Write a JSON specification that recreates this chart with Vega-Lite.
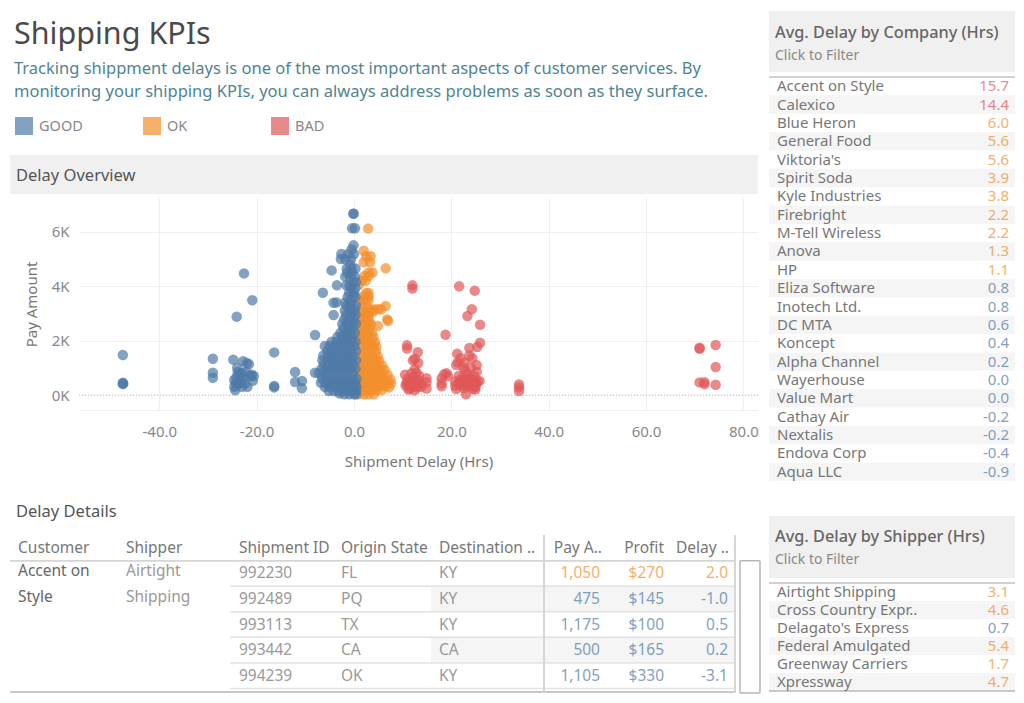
{
  "$schema": "https://vega.github.io/schema/vega-lite/v6.json",
  "padding": {"left": 9, "top": 11, "right": 0, "bottom": 0},
  "background": "white",
  "config": {
    "font": "Noto Sans",
    "locale": {"number": {"decimal": ".", "thousands": ",", "grouping": [3], "currency": ["$", ""], "minus": "-"}},
    "view": {"stroke": null},
    "text": {"fontSize": 15.5, "color": "#777777"},
    "axis": {"labelFont": "Noto Sans", "titleFont": "Noto Sans", "labelFontSize": 15, "titleFontSize": 15, "labelColor": "#888888", "titleColor": "#777777", "titleFontWeight": "normal", "gridColor": "#f0f0f0", "domain": false, "ticks": false}
  },
  "datasets": {
    "details": [
      {"id": "992230", "Origin State": "FL", "Destination": "KY", "Pay Amount": 1050, "Profit": 270, "Delay": 2.0, "status": "OK"},
      {"id": "992489", "Origin State": "PQ", "Destination": "KY", "Pay Amount": 475, "Profit": 145, "Delay": -1.0, "status": "GOOD"},
      {"id": "993113", "Origin State": "TX", "Destination": "KY", "Pay Amount": 1175, "Profit": 100, "Delay": 0.5, "status": "GOOD"},
      {"id": "993442", "Origin State": "CA", "Destination": "CA", "Pay Amount": 500, "Profit": 165, "Delay": 0.2, "status": "GOOD"},
      {"id": "994239", "Origin State": "OK", "Destination": "KY", "Pay Amount": 1105, "Profit": 330, "Delay": -3.1, "status": "GOOD"}
    ],
    "customer": [
      {"id": "992230", "Customer": "Accent on", "Shipper": "Airtight"},
      {"id": "992489", "Customer": "Style", "Shipper": "Shipping"}
    ],
    "company": [
      {"name": "Accent on Style", "delay": 15.7, "status": "BAD"},
      {"name": "Calexico", "delay": 14.4, "status": "BAD"},
      {"name": "Blue Heron", "delay": 6.0, "status": "OK"},
      {"name": "General Food", "delay": 5.6, "status": "OK"},
      {"name": "Viktoria's", "delay": 5.6, "status": "OK"},
      {"name": "Spirit Soda", "delay": 3.9, "status": "OK"},
      {"name": "Kyle Industries", "delay": 3.8, "status": "OK"},
      {"name": "Firebright", "delay": 2.2, "status": "OK"},
      {"name": "M-Tell Wireless", "delay": 2.2, "status": "OK"},
      {"name": "Anova", "delay": 1.3, "status": "OK"},
      {"name": "HP", "delay": 1.1, "status": "OK"},
      {"name": "Eliza Software", "delay": 0.8, "status": "GOOD"},
      {"name": "Inotech Ltd.", "delay": 0.8, "status": "GOOD"},
      {"name": "DC MTA", "delay": 0.6, "status": "GOOD"},
      {"name": "Koncept", "delay": 0.4, "status": "GOOD"},
      {"name": "Alpha Channel", "delay": 0.2, "status": "GOOD"},
      {"name": "Wayerhouse", "delay": 0.0, "status": "GOOD"},
      {"name": "Value Mart", "delay": 0.0, "status": "GOOD"},
      {"name": "Cathay Air", "delay": -0.2, "status": "GOOD"},
      {"name": "Nextalis", "delay": -0.2, "status": "GOOD"},
      {"name": "Endova Corp", "delay": -0.4, "status": "GOOD"},
      {"name": "Aqua LLC", "delay": -0.9, "status": "GOOD"}
    ],
    "shipper": [
      {"name": "Airtight Shipping", "delay": 3.1, "status": "OK"},
      {"name": "Cross Country Expr..", "delay": 4.6, "status": "OK"},
      {"name": "Delagato's Express", "delay": 0.7, "status": "GOOD"},
      {"name": "Federal Amulgated", "delay": 5.4, "status": "OK"},
      {"name": "Greenway Carriers", "delay": 1.7, "status": "OK"},
      {"name": "Xpressway", "delay": 4.7, "status": "OK"}
    ],
    "shipments": [
      {"d":1.0,"p":30,"s":"OK"},{"d":2.1,"p":30,"s":"OK"},{"d":3.0,"p":30,"s":"OK"},{"d":4.1,"p":30,"s":"OK"},
      {"d":1.2,"p":180,"s":"OK"},{"d":2.3,"p":180,"s":"OK"},{"d":3.4,"p":180,"s":"OK"},{"d":4.6,"p":180,"s":"OK"},{"d":5.7,"p":180,"s":"OK"},
      {"d":0.9,"p":320,"s":"OK"},{"d":2.0,"p":320,"s":"OK"},{"d":3.1,"p":320,"s":"OK"},{"d":4.2,"p":320,"s":"OK"},{"d":5.3,"p":320,"s":"OK"},{"d":6.5,"p":320,"s":"OK"},{"d":7.2,"p":280,"s":"OK"},
      {"d":1.4,"p":450,"s":"OK"},{"d":2.5,"p":450,"s":"OK"},{"d":3.6,"p":450,"s":"OK"},{"d":4.7,"p":450,"s":"OK"},{"d":5.8,"p":450,"s":"OK"},{"d":6.9,"p":450,"s":"OK"},{"d":7.6,"p":420,"s":"OK"},
      {"d":0.8,"p":600,"s":"OK"},{"d":1.9,"p":600,"s":"OK"},{"d":3.0,"p":600,"s":"OK"},{"d":4.1,"p":600,"s":"OK"},{"d":5.2,"p":600,"s":"OK"},{"d":6.3,"p":600,"s":"OK"},{"d":7.5,"p":570,"s":"OK"},
      {"d":1.3,"p":760,"s":"OK"},{"d":2.4,"p":760,"s":"OK"},{"d":3.5,"p":760,"s":"OK"},{"d":4.6,"p":760,"s":"OK"},{"d":5.7,"p":760,"s":"OK"},{"d":6.9,"p":750,"s":"OK"},
      {"d":1.0,"p":920,"s":"OK"},{"d":2.1,"p":920,"s":"OK"},{"d":3.2,"p":920,"s":"OK"},{"d":4.3,"p":920,"s":"OK"},{"d":5.4,"p":920,"s":"OK"},{"d":6.3,"p":920,"s":"OK"},
      {"d":1.5,"p":1080,"s":"OK"},{"d":2.6,"p":1080,"s":"OK"},{"d":3.7,"p":1080,"s":"OK"},{"d":4.8,"p":1080,"s":"OK"},{"d":5.8,"p":1080,"s":"OK"},
      {"d":1.1,"p":1250,"s":"OK"},{"d":2.2,"p":1250,"s":"OK"},{"d":3.3,"p":1250,"s":"OK"},{"d":4.4,"p":1250,"s":"OK"},{"d":5.2,"p":1250,"s":"OK"},
      {"d":1.6,"p":1420,"s":"OK"},{"d":2.7,"p":1420,"s":"OK"},{"d":3.8,"p":1420,"s":"OK"},{"d":4.9,"p":1420,"s":"OK"},
      {"d":1.2,"p":1600,"s":"OK"},{"d":2.3,"p":1600,"s":"OK"},{"d":3.4,"p":1600,"s":"OK"},{"d":4.5,"p":1600,"s":"OK"},
      {"d":1.7,"p":1780,"s":"OK"},{"d":2.8,"p":1780,"s":"OK"},{"d":3.9,"p":1780,"s":"OK"},{"d":4.6,"p":1780,"s":"OK"},
      {"d":1.3,"p":1950,"s":"OK"},{"d":2.4,"p":1950,"s":"OK"},{"d":3.5,"p":1950,"s":"OK"},{"d":4.3,"p":1950,"s":"OK"},
      {"d":1.0,"p":2130,"s":"OK"},{"d":2.0,"p":2130,"s":"OK"},{"d":3.0,"p":2130,"s":"OK"},{"d":4.0,"p":2130,"s":"OK"},
      {"d":1.6,"p":2280,"s":"OK"},{"d":2.7,"p":2280,"s":"OK"},{"d":3.7,"p":2280,"s":"OK"},
      {"d":1.1,"p":2420,"s":"OK"},{"d":2.2,"p":2420,"s":"OK"},{"d":3.2,"p":2420,"s":"OK"},{"d":4.9,"p":2540,"s":"OK"},
      {"d":1.7,"p":2600,"s":"OK"},{"d":2.8,"p":2600,"s":"OK"},{"d":3.5,"p":2600,"s":"OK"},
      {"d":1.3,"p":2720,"s":"OK"},{"d":2.3,"p":2720,"s":"OK"},{"d":3.1,"p":2720,"s":"OK"},{"d":7.0,"p":2720,"s":"OK"},{"d":6.8,"p":2780,"s":"OK"},
      {"d":1.8,"p":2900,"s":"OK"},{"d":2.6,"p":2900,"s":"OK"},{"d":3.0,"p":2900,"s":"OK"},
      {"d":1.2,"p":3060,"s":"OK"},{"d":2.1,"p":3060,"s":"OK"},{"d":3.0,"p":3060,"s":"OK"},{"d":3.9,"p":3060,"s":"OK"},
      {"d":3.3,"p":3150,"s":"OK"},{"d":4.2,"p":3150,"s":"OK"},{"d":5.0,"p":3150,"s":"OK"},{"d":5.6,"p":3150,"s":"OK"},
      {"d":1.7,"p":3270,"s":"OK"},{"d":2.6,"p":3270,"s":"OK"},{"d":6.5,"p":3270,"s":"OK"},
      {"d":1.1,"p":3480,"s":"OK"},{"d":2.1,"p":3480,"s":"OK"},{"d":3.0,"p":3480,"s":"OK"},
      {"d":1.9,"p":3620,"s":"OK"},{"d":3.0,"p":3620,"s":"OK"},{"d":2.5,"p":3750,"s":"OK"},{"d":3.0,"p":3750,"s":"OK"},
      {"d":1.0,"p":4050,"s":"OK"},{"d":1.6,"p":4200,"s":"OK"},{"d":2.4,"p":4200,"s":"OK"},
      {"d":2.2,"p":4380,"s":"OK"},{"d":3.0,"p":4380,"s":"OK"},{"d":3.0,"p":4500,"s":"OK"},{"d":3.8,"p":4500,"s":"OK"},{"d":6.5,"p":4655,"s":"OK"},
      {"d":2.0,"p":4880,"s":"OK"},{"d":3.3,"p":4880,"s":"OK"},{"d":2.5,"p":5100,"s":"OK"},{"d":3.4,"p":5100,"s":"OK"},{"d":2.0,"p":5300,"s":"OK"},{"d":2.9,"p":6115,"s":"OK"},

      {"d":-47.5,"p":1470,"s":"GOOD"},{"d":-47.5,"p":450,"s":"GOOD"},{"d":-47.5,"p":400,"s":"GOOD"},{"d":-47.4,"p":420,"s":"GOOD"},
      {"d":-29,"p":1335,"s":"GOOD"},{"d":-29,"p":820,"s":"GOOD"},{"d":-29,"p":637,"s":"GOOD"},
      {"d":-24.8,"p":1300,"s":"GOOD"},{"d":-24.6,"p":550,"s":"GOOD"},{"d":-24.6,"p":300,"s":"GOOD"},{"d":-24.4,"p":180,"s":"GOOD"},{"d":-24.3,"p":430,"s":"GOOD"},{"d":-24.2,"p":650,"s":"GOOD"},{"d":-24,"p":1000,"s":"GOOD"},{"d":-23.9,"p":850,"s":"GOOD"},{"d":-23.8,"p":400,"s":"GOOD"},{"d":-23.5,"p":780,"s":"GOOD"},{"d":-23.4,"p":450,"s":"GOOD"},{"d":-23.2,"p":550,"s":"GOOD"},{"d":-23,"p":300,"s":"GOOD"},{"d":-22.9,"p":820,"s":"GOOD"},{"d":-22.8,"p":1240,"s":"GOOD"},{"d":-22.6,"p":650,"s":"GOOD"},{"d":-22.4,"p":420,"s":"GOOD"},{"d":-22.2,"p":860,"s":"GOOD"},{"d":-22,"p":1180,"s":"GOOD"},{"d":-21.9,"p":300,"s":"GOOD"},{"d":-21.6,"p":1130,"s":"GOOD"},{"d":-21.2,"p":700,"s":"GOOD"},{"d":-21,"p":750,"s":"GOOD"},{"d":-20.8,"p":520,"s":"GOOD"},{"d":-20.6,"p":700,"s":"GOOD"},
      {"d":-22.6,"p":4470,"s":"GOOD"},{"d":-20.9,"p":3480,"s":"GOOD"},{"d":-24.1,"p":2880,"s":"GOOD"},{"d":-16.4,"p":1567,"s":"GOOD"},{"d":-16.4,"p":330,"s":"GOOD"},{"d":-16.4,"p":280,"s":"GOOD"},
      {"d":-12.1,"p":845,"s":"GOOD"},{"d":-12.1,"p":475,"s":"GOOD"},{"d":-10.7,"p":515,"s":"GOOD"},{"d":-10.7,"p":245,"s":"GOOD"},{"d":-8,"p":820,"s":"GOOD"},{"d":-8,"p":2205,"s":"GOOD"},
      {"d":-2,"p":30,"s":"GOOD"},{"d":-1,"p":30,"s":"GOOD"},{"d":0,"p":30,"s":"GOOD"},{"d":0.4,"p":30,"s":"GOOD"},{"d":-3,"p":60,"s":"GOOD"},
      {"d":-5.2,"p":150,"s":"GOOD"},{"d":-4.2,"p":150,"s":"GOOD"},{"d":-3.2,"p":150,"s":"GOOD"},{"d":-2.2,"p":150,"s":"GOOD"},{"d":-1.2,"p":150,"s":"GOOD"},{"d":-0.2,"p":150,"s":"GOOD"},{"d":0.4,"p":150,"s":"GOOD"},
      {"d":-6,"p":300,"s":"GOOD"},{"d":-5,"p":300,"s":"GOOD"},{"d":-4,"p":300,"s":"GOOD"},{"d":-3,"p":300,"s":"GOOD"},{"d":-2,"p":300,"s":"GOOD"},{"d":-1,"p":300,"s":"GOOD"},{"d":0,"p":300,"s":"GOOD"},{"d":0.5,"p":300,"s":"GOOD"},
      {"d":-6.8,"p":450,"s":"GOOD"},{"d":-5.8,"p":450,"s":"GOOD"},{"d":-4.8,"p":450,"s":"GOOD"},{"d":-3.8,"p":450,"s":"GOOD"},{"d":-2.8,"p":450,"s":"GOOD"},{"d":-1.8,"p":450,"s":"GOOD"},{"d":-0.8,"p":450,"s":"GOOD"},{"d":0.2,"p":450,"s":"GOOD"},
      {"d":-6.5,"p":600,"s":"GOOD"},{"d":-5.5,"p":600,"s":"GOOD"},{"d":-4.5,"p":600,"s":"GOOD"},{"d":-3.5,"p":600,"s":"GOOD"},{"d":-2.5,"p":600,"s":"GOOD"},{"d":-1.5,"p":600,"s":"GOOD"},{"d":-0.5,"p":600,"s":"GOOD"},{"d":0.5,"p":600,"s":"GOOD"},
      {"d":-7.2,"p":800,"s":"GOOD"},{"d":-6.2,"p":800,"s":"GOOD"},{"d":-5.2,"p":800,"s":"GOOD"},{"d":-4.2,"p":800,"s":"GOOD"},{"d":-3.2,"p":800,"s":"GOOD"},{"d":-2.2,"p":800,"s":"GOOD"},{"d":-1.2,"p":800,"s":"GOOD"},{"d":-0.2,"p":800,"s":"GOOD"},
      {"d":-6.7,"p":960,"s":"GOOD"},{"d":-5.7,"p":960,"s":"GOOD"},{"d":-4.7,"p":960,"s":"GOOD"},{"d":-3.7,"p":960,"s":"GOOD"},{"d":-2.7,"p":960,"s":"GOOD"},{"d":-1.7,"p":960,"s":"GOOD"},{"d":-0.7,"p":960,"s":"GOOD"},{"d":0.3,"p":960,"s":"GOOD"},
      {"d":-6.2,"p":1120,"s":"GOOD"},{"d":-5.2,"p":1120,"s":"GOOD"},{"d":-4.2,"p":1120,"s":"GOOD"},{"d":-3.2,"p":1120,"s":"GOOD"},{"d":-2.2,"p":1120,"s":"GOOD"},{"d":-1.2,"p":1120,"s":"GOOD"},{"d":-0.2,"p":1120,"s":"GOOD"},
      {"d":-6.5,"p":1280,"s":"GOOD"},{"d":-5.5,"p":1280,"s":"GOOD"},{"d":-4.5,"p":1280,"s":"GOOD"},{"d":-3.5,"p":1280,"s":"GOOD"},{"d":-2.5,"p":1280,"s":"GOOD"},{"d":-1.5,"p":1280,"s":"GOOD"},{"d":-0.5,"p":1280,"s":"GOOD"},{"d":0.4,"p":1280,"s":"GOOD"},
      {"d":-6.3,"p":1450,"s":"GOOD"},{"d":-5.3,"p":1450,"s":"GOOD"},{"d":-4.3,"p":1450,"s":"GOOD"},{"d":-3.3,"p":1450,"s":"GOOD"},{"d":-2.3,"p":1450,"s":"GOOD"},{"d":-1.3,"p":1450,"s":"GOOD"},{"d":-0.3,"p":1450,"s":"GOOD"},
      {"d":-5.5,"p":1620,"s":"GOOD"},{"d":-4.5,"p":1620,"s":"GOOD"},{"d":-3.5,"p":1620,"s":"GOOD"},{"d":-2.5,"p":1620,"s":"GOOD"},{"d":-1.5,"p":1620,"s":"GOOD"},{"d":-0.5,"p":1620,"s":"GOOD"},{"d":0.4,"p":1620,"s":"GOOD"},
      {"d":-6,"p":1800,"s":"GOOD"},{"d":-5,"p":1800,"s":"GOOD"},{"d":-4,"p":1800,"s":"GOOD"},{"d":-3,"p":1800,"s":"GOOD"},{"d":-2,"p":1800,"s":"GOOD"},{"d":-1,"p":1800,"s":"GOOD"},{"d":0,"p":1800,"s":"GOOD"},
      {"d":-4.6,"p":1960,"s":"GOOD"},{"d":-3.6,"p":1960,"s":"GOOD"},{"d":-2.6,"p":1960,"s":"GOOD"},{"d":-1.6,"p":1960,"s":"GOOD"},{"d":-0.6,"p":1960,"s":"GOOD"},{"d":0.3,"p":1960,"s":"GOOD"},
      {"d":-3.4,"p":2130,"s":"GOOD"},{"d":-2.4,"p":2130,"s":"GOOD"},{"d":-1.4,"p":2130,"s":"GOOD"},{"d":-0.4,"p":2130,"s":"GOOD"},
      {"d":-2.8,"p":2280,"s":"GOOD"},{"d":-1.8,"p":2280,"s":"GOOD"},{"d":-0.8,"p":2280,"s":"GOOD"},{"d":0.2,"p":2280,"s":"GOOD"},
      {"d":-2.2,"p":2450,"s":"GOOD"},{"d":-1.2,"p":2450,"s":"GOOD"},{"d":-0.2,"p":2450,"s":"GOOD"},
      {"d":-2.4,"p":2620,"s":"GOOD"},{"d":-1.4,"p":2620,"s":"GOOD"},{"d":-0.4,"p":2620,"s":"GOOD"},{"d":0.4,"p":2620,"s":"GOOD"},
      {"d":-2,"p":2790,"s":"GOOD"},{"d":-1,"p":2790,"s":"GOOD"},{"d":0,"p":2790,"s":"GOOD"},
      {"d":-4.2,"p":2940,"s":"GOOD"},{"d":-1.6,"p":2950,"s":"GOOD"},{"d":-0.6,"p":2950,"s":"GOOD"},{"d":0.3,"p":2950,"s":"GOOD"},
      {"d":-1.9,"p":3110,"s":"GOOD"},{"d":-0.9,"p":3110,"s":"GOOD"},{"d":0.1,"p":3110,"s":"GOOD"},
      {"d":-1.5,"p":3280,"s":"GOOD"},{"d":-0.5,"p":3280,"s":"GOOD"},{"d":0.4,"p":3280,"s":"GOOD"},
      {"d":-4.2,"p":3390,"s":"GOOD"},{"d":-3.6,"p":3400,"s":"GOOD"},{"d":-1.8,"p":3400,"s":"GOOD"},{"d":-0.8,"p":3400,"s":"GOOD"},
      {"d":-1.3,"p":3600,"s":"GOOD"},{"d":-0.3,"p":3600,"s":"GOOD"},{"d":0.3,"p":3600,"s":"GOOD"},
      {"d":-6.4,"p":3760,"s":"GOOD"},{"d":-1,"p":3760,"s":"GOOD"},{"d":0,"p":3760,"s":"GOOD"},
      {"d":-0.6,"p":3920,"s":"GOOD"},{"d":0.3,"p":3920,"s":"GOOD"},{"d":-3.5,"p":4030,"s":"GOOD"},{"d":-1.6,"p":4030,"s":"GOOD"},{"d":-0.9,"p":4030,"s":"GOOD"},
      {"d":-0.3,"p":4150,"s":"GOOD"},{"d":0.4,"p":4150,"s":"GOOD"},{"d":-1.8,"p":4350,"s":"GOOD"},{"d":-0.8,"p":4350,"s":"GOOD"},{"d":0.2,"p":4350,"s":"GOOD"},
      {"d":-1.4,"p":4500,"s":"GOOD"},{"d":-0.4,"p":4500,"s":"GOOD"},{"d":-4.6,"p":4580,"s":"GOOD"},{"d":-1.5,"p":4650,"s":"GOOD"},{"d":-0.5,"p":4650,"s":"GOOD"},{"d":0.3,"p":4650,"s":"GOOD"},
      {"d":-0.8,"p":4800,"s":"GOOD"},{"d":-2.7,"p":5000,"s":"GOOD"},{"d":-1.8,"p":5000,"s":"GOOD"},{"d":-0.6,"p":5000,"s":"GOOD"},
      {"d":-2.6,"p":5180,"s":"GOOD"},{"d":-1.2,"p":5180,"s":"GOOD"},{"d":0,"p":5180,"s":"GOOD"},{"d":-0.5,"p":5350,"s":"GOOD"},{"d":-0.1,"p":5500,"s":"GOOD"},
      {"d":-0.4,"p":6125,"s":"GOOD"},{"d":0.2,"p":6125,"s":"GOOD"},{"d":-0.1,"p":6665,"s":"GOOD"},{"d":-0.1,"p":6660,"s":"GOOD"},

      {"d":12,"p":4030,"s":"BAD"},{"d":12,"p":3910,"s":"BAD"},{"d":21.6,"p":4000,"s":"BAD"},{"d":24.8,"p":3835,"s":"BAD"},{"d":24.2,"p":3150,"s":"BAD"},{"d":23.3,"p":2900,"s":"BAD"},{"d":25.9,"p":2585,"s":"BAD"},{"d":18.8,"p":2215,"s":"BAD"},{"d":25.9,"p":1923,"s":"BAD"},{"d":25.3,"p":1765,"s":"BAD"},{"d":23.7,"p":1730,"s":"BAD"},{"d":21.2,"p":1520,"s":"BAD"},
      {"d":10.9,"p":1825,"s":"BAD"},{"d":10.9,"p":1710,"s":"BAD"},{"d":13.1,"p":1570,"s":"BAD"},{"d":12.1,"p":1275,"s":"BAD"},{"d":12.5,"p":1330,"s":"BAD"},{"d":13.2,"p":1180,"s":"BAD"},{"d":12.5,"p":950,"s":"BAD"},
      {"d":10.5,"p":750,"s":"BAD"},{"d":10.8,"p":450,"s":"BAD"},{"d":10.6,"p":350,"s":"BAD"},{"d":11,"p":600,"s":"BAD"},{"d":11.2,"p":200,"s":"BAD"},{"d":11.4,"p":250,"s":"BAD"},{"d":11.6,"p":500,"s":"BAD"},{"d":11.8,"p":800,"s":"BAD"},{"d":12,"p":350,"s":"BAD"},{"d":12.2,"p":650,"s":"BAD"},{"d":12.4,"p":170,"s":"BAD"},{"d":12.6,"p":450,"s":"BAD"},{"d":12.8,"p":820,"s":"BAD"},{"d":13,"p":280,"s":"BAD"},{"d":13.2,"p":550,"s":"BAD"},{"d":13.4,"p":700,"s":"BAD"},{"d":13.6,"p":400,"s":"BAD"},{"d":13.8,"p":300,"s":"BAD"},
      {"d":11,"p":400,"s":"BAD"},{"d":11.5,"p":350,"s":"BAD"},{"d":12,"p":500,"s":"BAD"},{"d":12.5,"p":300,"s":"BAD"},{"d":13,"p":450,"s":"BAD"},
      {"d":14.9,"p":620,"s":"BAD"},{"d":14.9,"p":470,"s":"BAD"},{"d":14.9,"p":240,"s":"BAD"},
      {"d":18,"p":620,"s":"BAD"},{"d":18,"p":430,"s":"BAD"},{"d":18,"p":320,"s":"BAD"},{"d":18.5,"p":760,"s":"BAD"},{"d":19,"p":800,"s":"BAD"},{"d":19.3,"p":700,"s":"BAD"},
      {"d":20.8,"p":500,"s":"BAD"},{"d":20.8,"p":340,"s":"BAD"},{"d":21,"p":1100,"s":"BAD"},{"d":21,"p":220,"s":"BAD"},{"d":21.3,"p":1200,"s":"BAD"},{"d":21.5,"p":700,"s":"BAD"},{"d":21.9,"p":1350,"s":"BAD"},{"d":22,"p":430,"s":"BAD"},{"d":22.3,"p":620,"s":"BAD"},{"d":22.5,"p":1000,"s":"BAD"},{"d":22.6,"p":250,"s":"BAD"},{"d":22.7,"p":1200,"s":"BAD"},{"d":22.8,"p":900,"s":"BAD"},{"d":23,"p":480,"s":"BAD"},{"d":23,"p":25,"s":"BAD"},{"d":23.3,"p":780,"s":"BAD"},{"d":23.5,"p":320,"s":"BAD"},{"d":23.6,"p":620,"s":"BAD"},{"d":23.7,"p":1450,"s":"BAD"},{"d":24,"p":1000,"s":"BAD"},{"d":24.1,"p":450,"s":"BAD"},{"d":24.3,"p":1350,"s":"BAD"},{"d":24.4,"p":230,"s":"BAD"},{"d":24.7,"p":700,"s":"BAD"},{"d":24.8,"p":540,"s":"BAD"},{"d":24.9,"p":200,"s":"BAD"},{"d":25,"p":300,"s":"BAD"},{"d":25.2,"p":1100,"s":"BAD"},{"d":25.2,"p":860,"s":"BAD"},{"d":25.4,"p":500,"s":"BAD"},{"d":25.8,"p":520,"s":"BAD"},
      {"d":21.5,"p":450,"s":"BAD"},{"d":22,"p":350,"s":"BAD"},{"d":22,"p":550,"s":"BAD"},{"d":22.5,"p":480,"s":"BAD"},{"d":23,"p":350,"s":"BAD"},{"d":23,"p":600,"s":"BAD"},{"d":23.5,"p":500,"s":"BAD"},{"d":24,"p":350,"s":"BAD"},{"d":24,"p":600,"s":"BAD"},{"d":24.5,"p":450,"s":"BAD"},{"d":25,"p":420,"s":"BAD"},
      {"d":33.9,"p":390,"s":"BAD"},{"d":33.9,"p":280,"s":"BAD"},{"d":33.9,"p":150,"s":"BAD"},
      {"d":71,"p":1740,"s":"BAD"},{"d":71,"p":1700,"s":"BAD"},{"d":74.3,"p":1840,"s":"BAD"},{"d":74.3,"p":1030,"s":"BAD"},{"d":71,"p":465,"s":"BAD"},{"d":72,"p":470,"s":"BAD"},{"d":72,"p":400,"s":"BAD"},{"d":74.3,"p":380,"s":"BAD"}
    ]
  },
  "hconcat": [
    {
      "align": "none",
      "spacing": 34,
      "vconcat": [
        {
          "align": "none",
          "spacing": 17,
          "vconcat": [
            {
              "align": "none",
              "spacing": 11,
              "vconcat": [
                {
                  "align": "none",
                  "spacing": 0,
                  "vconcat": [
                    {
                      "width": 748, "height": 46,
                      "data": {"values": [{"label": "Shipping KPIs"}]},
                      "mark": {"type": "text", "align": "left", "dx": 4, "dy": 1, "fontSize": 30.5, "color": "#4a4a4a"},
                      "encoding": {
                        "x": {"datum": 0, "type": "quantitative", "scale": {"domain": [0, 1]}, "axis": null},
                        "text": {"field": "label"}
                      }
                    },
                    {
                      "width": 748, "height": 46,
                      "data": {"values": [
                        {"line": "Tracking shippment delays is one of the most important aspects of customer services. By"},
                        {"line": "monitoring your shipping KPIs, you can always address problems as soon as they surface."}
                      ]},
                      "mark": {"type": "text", "align": "left", "dx": 4, "fontSize": 16.5, "color": "#4f8492"},
                      "encoding": {
                        "x": {"datum": 0, "type": "quantitative", "scale": {"domain": [0, 1]}, "axis": null},
                        "y": {"field": "line", "type": "nominal", "sort": null, "axis": null},
                        "text": {"field": "line"}
                      }
                    }
                  ]
                },
                {
                  "width": 748,
                  "height": 24,
                  "data": {"values": [{"label": "GOOD"}, {"label": "OK"}, {"label": "BAD"}]},
                  "encoding": {
                    "x": {"field": "label", "type": "nominal", "sort": null, "scale": {"type": "point", "domain": ["GOOD", "OK", "BAD"], "range": [14, 270], "padding": 0}, "axis": null}
                  },
                  "layer": [
                    {
                      "mark": {"type": "point", "shape": "square", "filled": true, "size": 324, "opacity": 0.7},
                      "encoding": {"color": {"field": "label", "type": "nominal", "legend": null, "scale": {"domain": ["GOOD", "OK", "BAD"], "range": ["#4e79a7", "#f28e2b", "#e15759"]}}}
                    },
                    {
                      "mark": {"type": "text", "align": "left", "dx": 15, "dy": 1, "fontSize": 14.5, "color": "#888888"},
                      "encoding": {"text": {"field": "label"}}
                    }
                  ]
                }
              ]
            },
            {
              "align": "none",
              "spacing": 4,
              "vconcat": [
                {
                  "width": 748,
                  "height": 39,
                  "view": {"fill": "#f0f0f0"},
                  "data": {"values": [{"label": "Delay Overview"}]},
                  "mark": {"type": "text", "align": "left", "dx": 6, "dy": 1, "fontSize": 16.5, "color": "#555555"},
                  "encoding": {
                    "x": {"datum": 0, "type": "quantitative", "scale": {"domain": [0, 1]}, "axis": null},
                    "text": {"field": "label"}
                  }
                },
                {
                  "align": "none",
                  "spacing": 0,
                  "hconcat": [
                    {"width": 14, "height": 10, "data": {"values": []}, "mark": "rect"},
                    {
                      "width": 679,
                      "height": 212,
                      "data": {"name": "shipments"},
                      "layer": [
                        {
                          "mark": {"type": "rule", "color": "#bbbbbb", "strokeDash": [1, 2], "strokeWidth": 1},
                          "data": {"values": [{"zero": 0}]},
                          "encoding": {"y": {"field": "zero", "type": "quantitative"}}
                        },
                        {
                          "mark": {"type": "circle", "size": 110, "opacity": 0.7},
                          "encoding": {
                            "x": {
                              "field": "d", "type": "quantitative", "title": "Shipment Delay (Hrs)",
                              "scale": {"domain": [-56.5, 83], "nice": false, "zero": false},
                              "axis": {"values": [-40, -20, 0, 20, 40, 60, 80], "format": ".1f", "labelPadding": 14, "titlePadding": 15, "domain": true, "domainColor": "#efefef", "labelFlush": false}
                            },
                            "y": {
                              "field": "p", "type": "quantitative", "title": "Pay Amount",
                              "scale": {"domain": [-550, 7240], "nice": false, "zero": false},
                              "axis": {"values": [0, 2000, 4000, 6000], "labelExpr": "datum.value / 1000 + 'K'", "labelPadding": 10, "titlePadding": 12}
                            },
                            "color": {"field": "s", "type": "nominal", "legend": null, "scale": {"domain": ["GOOD", "OK", "BAD"], "range": ["#4e79a7", "#f28e2b", "#e15759"]}}
                          }
                        }
                      ]
                    }
                  ]
                }
              ]
            }
          ]
        },
        {
          "align": "none",
          "spacing": 13,
          "vconcat": [
            {
              "width": 300,
              "height": 18,
              "data": {"values": [{"label": "Delay Details"}]},
              "mark": {"type": "text", "align": "left", "dx": 6, "fontSize": 16.5, "color": "#555555"},
              "encoding": {
                "x": {"datum": 0, "type": "quantitative", "scale": {"domain": [0, 1]}, "axis": null},
                "text": {"field": "label"}
              }
            },
            {
              "align": "none",
              "spacing": 3,
              "hconcat": [
                {
                  "align": "none",
                  "spacing": 0,
                  "bounds": "flush",
                  "hconcat": [
                    {
                      "width": 111, "height": 158,
                      "layer": [
                        {"data": {"name": "details"}, "mark": {"type": "rule", "color": "#d5d5d5", "strokeWidth": 1.2}, "encoding": {"y": {"datum": "Header", "type": "nominal", "bandPosition": 1, "scale": {"type": "band", "domain": ["Header", "992230", "992489", "993113", "993442", "994239"], "range": [0, 153.5]}, "axis": null}}},
                        {"data": {"name": "details"}, "mark": {"type": "rule", "color": "#c8c8c8", "strokeWidth": 1.5}, "encoding": {"y": {"datum": "994239", "type": "nominal", "bandPosition": 1.15}}},
                        {"data": {"values": [{"label": "Customer"}]}, "mark": {"type": "text", "align": "left", "dx": 8, "color": "#777777"}, "encoding": {"y": {"datum": "Header", "type": "nominal"}, "x": {"datum": 0, "type": "quantitative", "scale": {"domain": [0, 1]}, "axis": null}, "text": {"field": "label"}}},
                        {"data": {"name": "customer"}, "mark": {"type": "text", "align": "left", "dx": 8, "dy": -2, "color": "#666666"}, "encoding": {"y": {"field": "id", "type": "nominal"}, "x": {"datum": 0, "type": "quantitative"}, "text": {"field": "Customer"}}}
                      ]
                    },
                    {
                      "width": 109, "height": 158,
                      "layer": [
                        {"data": {"name": "details"}, "mark": {"type": "rule", "color": "#d5d5d5", "strokeWidth": 1.2}, "encoding": {"y": {"datum": "Header", "type": "nominal", "bandPosition": 1, "scale": {"type": "band", "domain": ["Header", "992230", "992489", "993113", "993442", "994239"], "range": [0, 153.5]}, "axis": null}}},
                        {"data": {"name": "details"}, "mark": {"type": "rule", "color": "#c8c8c8", "strokeWidth": 1.5}, "encoding": {"y": {"datum": "994239", "type": "nominal", "bandPosition": 1.15}}},
                        {"data": {"values": [{"label": "Shipper"}]}, "mark": {"type": "text", "align": "left", "dx": 5, "color": "#777777"}, "encoding": {"y": {"datum": "Header", "type": "nominal"}, "x": {"datum": 0, "type": "quantitative", "scale": {"domain": [0, 1]}, "axis": null}, "text": {"field": "label"}}},
                        {"data": {"name": "customer"}, "mark": {"type": "text", "align": "left", "dx": 5, "dy": -2, "color": "#999999"}, "encoding": {"y": {"field": "id", "type": "nominal"}, "x": {"datum": 0, "type": "quantitative"}, "text": {"field": "Shipper"}}}
                      ]
                    },
                    {
                      "width": 106, "height": 158,
                      "data": {"name": "details"},
                      "layer": [
                        {"mark": {"type": "rule", "color": "#e2e2e2", "strokeWidth": 1.5}, "encoding": {"y": {"field": "id", "type": "nominal", "bandPosition": 1, "scale": {"type": "band", "domain": ["Header", "992230", "992489", "993113", "993442", "994239"], "range": [0, 153.5]}, "axis": null}}},
                        {"mark": {"type": "rule", "color": "#d5d5d5", "strokeWidth": 1.2}, "encoding": {"y": {"datum": "Header", "type": "nominal", "bandPosition": 1}}},
                        {"mark": {"type": "rule", "color": "#c8c8c8", "strokeWidth": 1.5}, "encoding": {"y": {"datum": "994239", "type": "nominal", "bandPosition": 1.15}}},
                        {"data": {"values": [{"label": "Shipment ID"}]}, "mark": {"type": "text", "align": "left", "dx": 9, "color": "#777777"}, "encoding": {"y": {"datum": "Header", "type": "nominal"}, "x": {"datum": 0, "type": "quantitative", "scale": {"domain": [0, 1]}, "axis": null}, "text": {"field": "label"}}},
                        {"mark": {"type": "text", "align": "left", "dx": 9, "color": "#999999"}, "encoding": {"y": {"field": "id", "type": "nominal"}, "x": {"datum": 0, "type": "quantitative"}, "text": {"field": "id"}}}
                      ]
                    },
                    {
                      "width": 95, "height": 158,
                      "data": {"name": "details"},
                      "layer": [
                        {"mark": {"type": "rule", "color": "#e2e2e2", "strokeWidth": 1.5}, "encoding": {"y": {"field": "id", "type": "nominal", "bandPosition": 1, "scale": {"type": "band", "domain": ["Header", "992230", "992489", "993113", "993442", "994239"], "range": [0, 153.5]}, "axis": null}}},
                        {"mark": {"type": "rule", "color": "#d5d5d5", "strokeWidth": 1.2}, "encoding": {"y": {"datum": "Header", "type": "nominal", "bandPosition": 1}}},
                        {"mark": {"type": "rule", "color": "#c8c8c8", "strokeWidth": 1.5}, "encoding": {"y": {"datum": "994239", "type": "nominal", "bandPosition": 1.15}}},
                        {"data": {"values": [{"label": "Origin State"}]}, "mark": {"type": "text", "align": "left", "dx": 5, "color": "#777777"}, "encoding": {"y": {"datum": "Header", "type": "nominal"}, "x": {"datum": 0, "type": "quantitative", "scale": {"domain": [0, 1]}, "axis": null}, "text": {"field": "label"}}},
                        {"mark": {"type": "text", "align": "left", "dx": 5, "color": "#999999"}, "encoding": {"y": {"field": "id", "type": "nominal"}, "x": {"datum": 0, "type": "quantitative"}, "text": {"field": "Origin State"}}}
                      ]
                    },
                    {
                      "width": 113, "height": 158,
                      "data": {"name": "details"},
                      "layer": [
                        {"transform": [{"filter": {"field": "id", "oneOf": ["992489", "993442"]}}], "mark": {"type": "rect", "color": "#f5f5f5"}, "encoding": {"y": {"field": "id", "type": "nominal", "scale": {"type": "band", "domain": ["Header", "992230", "992489", "993113", "993442", "994239"], "range": [0, 153.5]}, "axis": null}}},
                        {"mark": {"type": "rule", "color": "#e2e2e2", "strokeWidth": 1.5}, "encoding": {"y": {"field": "id", "type": "nominal", "bandPosition": 1}}},
                        {"mark": {"type": "rule", "color": "#d5d5d5", "strokeWidth": 1.2}, "encoding": {"y": {"datum": "Header", "type": "nominal", "bandPosition": 1}}},
                        {"mark": {"type": "rule", "color": "#c8c8c8", "strokeWidth": 1.5}, "encoding": {"y": {"datum": "994239", "type": "nominal", "bandPosition": 1.15}}},
                        {"data": {"values": [{"label": "Destination .."}]}, "mark": {"type": "text", "align": "left", "dx": 8, "color": "#777777"}, "encoding": {"y": {"datum": "Header", "type": "nominal"}, "x": {"datum": 0, "type": "quantitative", "scale": {"domain": [0, 1]}, "axis": null}, "text": {"field": "label"}}},
                        {"mark": {"type": "text", "align": "left", "dx": 8, "color": "#999999"}, "encoding": {"y": {"field": "id", "type": "nominal"}, "x": {"datum": 0, "type": "quantitative"}, "text": {"field": "Destination"}}}
                      ]
                    },
                    {
                      "width": 64, "height": 158,
                      "data": {"name": "details"},
                      "layer": [
                        {"transform": [{"filter": {"field": "id", "oneOf": ["992489", "993442"]}}], "mark": {"type": "rect", "color": "#f5f5f5"}, "encoding": {"y": {"field": "id", "type": "nominal", "scale": {"type": "band", "domain": ["Header", "992230", "992489", "993113", "993442", "994239"], "range": [0, 153.5]}, "axis": null}}},
                        {"mark": {"type": "rule", "color": "#e2e2e2", "strokeWidth": 1.5}, "encoding": {"y": {"field": "id", "type": "nominal", "bandPosition": 1}}},
                        {"mark": {"type": "rule", "color": "#d5d5d5", "strokeWidth": 1.2}, "encoding": {"y": {"datum": "Header", "type": "nominal", "bandPosition": 1}}},
                        {"mark": {"type": "rule", "color": "#c8c8c8", "strokeWidth": 1.5}, "encoding": {"y": {"datum": "994239", "type": "nominal", "bandPosition": 1.15}}},
                        {"mark": {"type": "rule", "color": "#d5d5d5", "strokeWidth": 1}, "encoding": {"x": {"datum": 0, "type": "quantitative", "scale": {"domain": [0, 1]}, "axis": null}}},
                        {"data": {"values": [{"label": "Pay A.."}]}, "mark": {"type": "text", "align": "right", "dx": -6, "color": "#777777"}, "encoding": {"y": {"datum": "Header", "type": "nominal"}, "x": {"datum": 1, "type": "quantitative"}, "text": {"field": "label"}}},
                        {"mark": {"type": "text", "align": "right", "dx": -8, "opacity": 0.7}, "encoding": {"y": {"field": "id", "type": "nominal"}, "x": {"datum": 1, "type": "quantitative"}, "text": {"field": "Pay Amount", "type": "quantitative", "format": ","}, "color": {"field": "status", "type": "nominal", "legend": null, "scale": {"domain": ["GOOD", "OK", "BAD"], "range": ["#4e79a7", "#f28e2b", "#e15759"]}}}}
                      ]
                    },
                    {
                      "width": 60, "height": 158,
                      "data": {"name": "details"},
                      "layer": [
                        {"transform": [{"filter": {"field": "id", "oneOf": ["992489", "993442"]}}], "mark": {"type": "rect", "color": "#f5f5f5"}, "encoding": {"y": {"field": "id", "type": "nominal", "scale": {"type": "band", "domain": ["Header", "992230", "992489", "993113", "993442", "994239"], "range": [0, 153.5]}, "axis": null}}},
                        {"mark": {"type": "rule", "color": "#e2e2e2", "strokeWidth": 1.5}, "encoding": {"y": {"field": "id", "type": "nominal", "bandPosition": 1}}},
                        {"mark": {"type": "rule", "color": "#d5d5d5", "strokeWidth": 1.2}, "encoding": {"y": {"datum": "Header", "type": "nominal", "bandPosition": 1}}},
                        {"mark": {"type": "rule", "color": "#c8c8c8", "strokeWidth": 1.5}, "encoding": {"y": {"datum": "994239", "type": "nominal", "bandPosition": 1.15}}},
                        {"data": {"values": [{"label": "Profit"}]}, "mark": {"type": "text", "align": "right", "dx": -4, "color": "#777777"}, "encoding": {"y": {"datum": "Header", "type": "nominal"}, "x": {"datum": 1, "type": "quantitative", "scale": {"domain": [0, 1]}, "axis": null}, "text": {"field": "label"}}},
                        {"mark": {"type": "text", "align": "right", "dx": -4, "opacity": 0.7}, "encoding": {"y": {"field": "id", "type": "nominal"}, "x": {"datum": 1, "type": "quantitative"}, "text": {"field": "Profit", "type": "quantitative", "format": "$,.0f"}, "color": {"field": "status", "type": "nominal", "legend": null, "scale": {"domain": ["GOOD", "OK", "BAD"], "range": ["#4e79a7", "#f28e2b", "#e15759"]}}}}
                      ]
                    },
                    {
                      "width": 67, "height": 158,
                      "data": {"name": "details"},
                      "layer": [
                        {"transform": [{"filter": {"field": "id", "oneOf": ["992489", "993442"]}}], "mark": {"type": "rect", "color": "#f5f5f5"}, "encoding": {"y": {"field": "id", "type": "nominal", "scale": {"type": "band", "domain": ["Header", "992230", "992489", "993113", "993442", "994239"], "range": [0, 153.5]}, "axis": null}}},
                        {"mark": {"type": "rule", "color": "#e2e2e2", "strokeWidth": 1.5}, "encoding": {"y": {"field": "id", "type": "nominal", "bandPosition": 1}}},
                        {"mark": {"type": "rule", "color": "#d5d5d5", "strokeWidth": 1.2}, "encoding": {"y": {"datum": "Header", "type": "nominal", "bandPosition": 1}}},
                        {"mark": {"type": "rule", "color": "#c8c8c8", "strokeWidth": 1.5}, "encoding": {"y": {"datum": "994239", "type": "nominal", "bandPosition": 1.15}}},
                        {"mark": {"type": "rule", "color": "#d5d5d5", "strokeWidth": 1}, "encoding": {"x": {"datum": 1, "type": "quantitative", "scale": {"domain": [0, 1]}, "axis": null}}},
                        {"data": {"values": [{"label": "Delay .."}]}, "mark": {"type": "text", "align": "right", "dx": -6, "color": "#777777"}, "encoding": {"y": {"datum": "Header", "type": "nominal"}, "x": {"datum": 1, "type": "quantitative"}, "text": {"field": "label"}}},
                        {"mark": {"type": "text", "align": "right", "dx": -7, "opacity": 0.7}, "encoding": {"y": {"field": "id", "type": "nominal"}, "x": {"datum": 1, "type": "quantitative"}, "text": {"field": "Delay", "type": "quantitative", "format": ".1f"}, "color": {"field": "status", "type": "nominal", "legend": null, "scale": {"domain": ["GOOD", "OK", "BAD"], "range": ["#4e79a7", "#f28e2b", "#e15759"]}}}}
                      ]
                    }
                  ]
                },
                {
                  "width": 20, "height": 158,
                  "data": {"values": [{"first": 0, "last": 5.15}]},
                  "mark": {"type": "rect", "filled": false, "stroke": "#b5b5b5", "strokeWidth": 1.5, "cornerRadius": 1},
                  "encoding": {
                    "x": {"datum": 0, "type": "quantitative", "scale": {"domain": [0, 1]}, "axis": null},
                    "x2": {"datum": 1},
                    "y": {"field": "first", "type": "quantitative", "scale": {"domain": [-1, 5.15], "reverse": true, "nice": false, "zero": false}, "axis": null},
                    "y2": {"field": "last"}
                  }
                }
              ]
            }
          ]
        }
      ]
    },
    {
      "align": "none",
      "spacing": 35,
      "vconcat": [
        {
          "align": "none",
          "spacing": 4,
          "vconcat": [
            {
              "width": 246, "height": 61,
              "view": {"fill": "#f0f0f0"},
              "layer": [
                {"data": {"values": [{"label": "Avg. Delay by Company (Hrs)"}]}, "mark": {"type": "text", "align": "left", "dx": 6, "dy": -9, "fontSize": 16.3, "fontWeight": 500, "color": "#666666"}, "encoding": {"x": {"datum": 0, "type": "quantitative", "scale": {"domain": [0, 1]}, "axis": null}, "text": {"field": "label"}}},
                {"data": {"values": [{"label": "Click to Filter"}]}, "mark": {"type": "text", "align": "left", "dx": 6, "dy": 14, "fontSize": 14, "color": "#888888"}, "encoding": {"x": {"datum": 0, "type": "quantitative"}, "text": {"field": "label"}}}
              ]
            },
            {
              "width": 246, "height": 404,
              "data": {"name": "company"},
              "layer": [
                {"transform": [{"filter": {"field": "name", "oneOf": ["Calexico", "General Food", "Spirit Soda", "Firebright", "Anova", "Eliza Software", "DC MTA", "Alpha Channel", "Value Mart", "Nextalis", "Aqua LLC"]}}], "mark": {"type": "rect", "color": "#f5f5f5"}, "encoding": {"y": {"field": "name", "type": "nominal", "scale": {"type": "band", "paddingInner": 0, "paddingOuter": 0, "domain": ["Accent on Style", "Calexico", "Blue Heron", "General Food", "Viktoria's", "Spirit Soda", "Kyle Industries", "Firebright", "M-Tell Wireless", "Anova", "HP", "Eliza Software", "Inotech Ltd.", "DC MTA", "Koncept", "Alpha Channel", "Wayerhouse", "Value Mart", "Cathay Air", "Nextalis", "Endova Corp", "Aqua LLC"]}, "axis": null}}},
                {"mark": {"type": "rule", "color": "#d0d0d0", "strokeWidth": 1.5}, "encoding": {"y": {"datum": "Accent on Style", "type": "nominal", "bandPosition": 0}}},
                {"mark": {"type": "text", "align": "left", "dx": 8, "fontSize": 15}, "encoding": {"y": {"field": "name", "type": "nominal"}, "x": {"datum": 0, "type": "quantitative", "scale": {"domain": [0, 1]}, "axis": null}, "text": {"field": "name"}}},
                {"mark": {"type": "text", "align": "right", "dx": -6, "fontSize": 15, "opacity": 0.7}, "encoding": {"y": {"field": "name", "type": "nominal"}, "x": {"datum": 1, "type": "quantitative"}, "text": {"field": "delay", "type": "quantitative", "format": ".1f"}, "color": {"field": "status", "type": "nominal", "legend": null, "scale": {"domain": ["GOOD", "OK", "BAD"], "range": ["#4e79a7", "#f28e2b", "#e15759"]}}}}
              ]
            }
          ]
        },
        {
          "align": "none",
          "spacing": 4,
          "vconcat": [
            {
              "width": 246, "height": 62,
              "view": {"fill": "#f0f0f0"},
              "layer": [
                {"data": {"values": [{"label": "Avg. Delay by Shipper (Hrs)"}]}, "mark": {"type": "text", "align": "left", "dx": 6, "dy": -10, "fontSize": 16.3, "fontWeight": 500, "color": "#666666"}, "encoding": {"x": {"datum": 0, "type": "quantitative", "scale": {"domain": [0, 1]}, "axis": null}, "text": {"field": "label"}}},
                {"data": {"values": [{"label": "Click to Filter"}]}, "mark": {"type": "text", "align": "left", "dx": 6, "dy": 13, "fontSize": 14, "color": "#888888"}, "encoding": {"x": {"datum": 0, "type": "quantitative"}, "text": {"field": "label"}}}
              ]
            },
            {
              "width": 246, "height": 108,
              "data": {"name": "shipper"},
              "layer": [
                {"transform": [{"filter": {"field": "name", "oneOf": ["Cross Country Expr..", "Federal Amulgated", "Xpressway"]}}], "mark": {"type": "rect", "color": "#f5f5f5"}, "encoding": {"y": {"field": "name", "type": "nominal", "scale": {"type": "band", "paddingInner": 0, "paddingOuter": 0, "domain": ["Airtight Shipping", "Cross Country Expr..", "Delagato's Express", "Federal Amulgated", "Greenway Carriers", "Xpressway"]}, "axis": null}}},
                {"mark": {"type": "rule", "color": "#d0d0d0", "strokeWidth": 1.5}, "encoding": {"y": {"datum": "Airtight Shipping", "type": "nominal", "bandPosition": 0}}},
                {"mark": {"type": "rule", "color": "#c8c8c8", "strokeWidth": 1.5}, "encoding": {"y": {"datum": "Xpressway", "type": "nominal", "bandPosition": 1}}},
                {"mark": {"type": "text", "align": "left", "dx": 8, "fontSize": 15}, "encoding": {"y": {"field": "name", "type": "nominal"}, "x": {"datum": 0, "type": "quantitative", "scale": {"domain": [0, 1]}, "axis": null}, "text": {"field": "name"}}},
                {"mark": {"type": "text", "align": "right", "dx": -6, "fontSize": 15, "opacity": 0.7}, "encoding": {"y": {"field": "name", "type": "nominal"}, "x": {"datum": 1, "type": "quantitative"}, "text": {"field": "delay", "type": "quantitative", "format": ".1f"}, "color": {"field": "status", "type": "nominal", "legend": null, "scale": {"domain": ["GOOD", "OK", "BAD"], "range": ["#4e79a7", "#f28e2b", "#e15759"]}}}}
              ]
            }
          ]
        }
      ]
    }
  ],
  "spacing": 7,
  "align": "none"
}
